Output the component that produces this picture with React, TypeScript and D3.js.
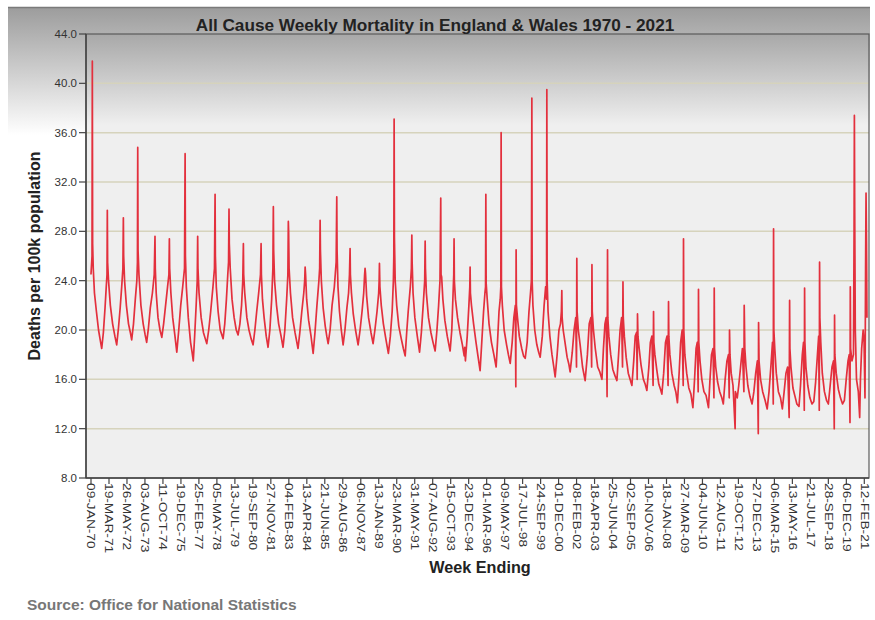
import React from "react";
import * as d3 from "d3";

const titleText = "All Cause Weekly Mortality in England & Wales 1970 - 2021";
const yLabel = "Deaths per 100k population";
const xLabel = "Week Ending";
const sourceText = "Source: Office for National Statistics";

const tickDates = [
  "09-JAN-70", "19-MAR-71", "26-MAY-72", "03-AUG-73", "11-OCT-74", "19-DEC-75",
  "25-FEB-77", "05-MAY-78", "13-JUL-79", "19-SEP-80", "27-NOV-81", "04-FEB-83",
  "13-APR-84", "21-JUN-85", "29-AUG-86", "06-NOV-87", "13-JAN-89", "23-MAR-90",
  "31-MAY-91", "07-AUG-92", "15-OCT-93", "23-DEC-94", "01-MAR-96", "09-MAY-97",
  "17-JUL-98", "24-SEP-99", "01-DEC-00", "08-FEB-02", "18-APR-03", "25-JUN-04",
  "02-SEP-05", "10-NOV-06", "18-JAN-08", "27-MAR-09", "04-JUN-10", "12-AUG-11",
  "19-OCT-12", "27-DEC-13", "06-MAR-15", "13-MAY-16", "21-JUL-17", "28-SEP-18",
  "06-DEC-19", "12-FEB-21",
];

const yTicks = [8, 12, 16, 20, 24, 28, 32, 36, 40, 44];

// [decimal year (as placed on the chart), deaths per 100k]
const mortality: [number, number][] = [
  [1970.02, 24.5], [1970.09, 26.0], [1970.11, 41.8], [1970.13, 27.0], [1970.17, 25.0], [1970.25, 23.0], [1970.38, 21.5], [1970.52, 20.0], [1970.63, 19.2], [1970.73, 18.5], [1970.84, 19.8], [1970.95, 21.8], [1971.03, 23.5],
  [1971.08, 24.5], [1971.10, 29.7], [1971.12, 25.5], [1971.18, 24.0], [1971.30, 22.0], [1971.45, 20.5], [1971.60, 19.5], [1971.72, 18.8], [1971.84, 20.2], [1971.95, 21.8], [1972.05, 23.5],
  [1972.13, 25.0], [1972.16, 29.1], [1972.18, 26.0], [1972.24, 24.0], [1972.36, 22.0], [1972.50, 20.5], [1972.62, 19.8], [1972.71, 19.2], [1972.83, 20.5], [1972.95, 22.5], [1973.05, 24.0],
  [1973.09, 25.5], [1973.11, 34.8], [1973.13, 26.5], [1973.19, 24.5], [1973.32, 22.0], [1973.47, 20.5], [1973.60, 19.6], [1973.70, 19.0], [1973.82, 20.2], [1973.94, 21.8], [1974.08, 23.0],
  [1974.20, 24.5], [1974.25, 27.6], [1974.27, 25.0], [1974.33, 23.0], [1974.45, 21.0], [1974.58, 20.0], [1974.70, 19.4], [1974.82, 20.5], [1974.95, 22.0], [1975.08, 23.5],
  [1975.17, 24.5], [1975.20, 27.4], [1975.22, 25.0], [1975.30, 23.0], [1975.42, 21.0], [1975.56, 19.6], [1975.69, 18.2], [1975.82, 20.0], [1975.95, 22.0], [1976.08, 23.5],
  [1976.20, 25.0], [1976.24, 34.3], [1976.26, 26.0], [1976.32, 23.5], [1976.45, 21.0], [1976.60, 19.0], [1976.70, 18.2], [1976.78, 17.5], [1976.87, 19.5], [1976.97, 22.0],
  [1977.04, 24.0], [1977.07, 27.6], [1977.09, 25.0], [1977.16, 23.0], [1977.30, 21.0], [1977.45, 19.8], [1977.57, 19.3], [1977.67, 18.9], [1977.80, 20.0], [1977.93, 21.5], [1978.08, 23.5],
  [1978.18, 25.0], [1978.22, 31.0], [1978.24, 26.0], [1978.30, 23.5], [1978.42, 21.5], [1978.56, 20.0], [1978.75, 19.3], [1978.86, 20.5], [1978.97, 22.5], [1979.06, 24.5],
  [1979.11, 25.5], [1979.14, 29.8], [1979.16, 27.0], [1979.22, 25.0], [1979.34, 22.5], [1979.48, 21.0], [1979.62, 20.0], [1979.74, 19.6], [1979.86, 20.5], [1979.97, 22.0],
  [1980.05, 24.0], [1980.09, 27.0], [1980.11, 24.5], [1980.18, 23.0], [1980.32, 21.0], [1980.46, 20.0], [1980.60, 19.3], [1980.73, 18.8], [1980.85, 20.0], [1980.97, 21.5], [1981.10, 23.0],
  [1981.22, 24.5], [1981.26, 27.0], [1981.28, 24.5], [1981.35, 22.5], [1981.46, 21.0], [1981.60, 19.5], [1981.72, 18.6], [1981.84, 20.0], [1981.96, 22.5],
  [1982.04, 25.0], [1982.07, 30.0], [1982.09, 26.5], [1982.15, 24.0], [1982.28, 22.0], [1982.42, 20.5], [1982.58, 19.5], [1982.71, 18.6], [1982.83, 20.0], [1982.95, 22.5],
  [1983.03, 24.5], [1983.06, 28.8], [1983.08, 28.0], [1983.11, 25.0], [1983.20, 23.0], [1983.34, 21.0], [1983.50, 19.8], [1983.70, 18.5], [1983.82, 19.8], [1983.95, 21.5], [1984.08, 23.0],
  [1984.14, 24.0], [1984.17, 25.1], [1984.20, 24.5], [1984.27, 22.5], [1984.40, 20.8], [1984.56, 19.5], [1984.70, 18.1], [1984.82, 19.8], [1984.95, 22.0], [1985.08, 24.0],
  [1985.13, 25.0], [1985.16, 28.9], [1985.18, 26.5], [1985.24, 24.0], [1985.36, 21.8], [1985.50, 20.3], [1985.60, 19.5], [1985.69, 18.9], [1985.82, 20.0], [1985.95, 22.0], [1986.10, 23.5],
  [1986.22, 25.5], [1986.26, 30.8], [1986.28, 26.5], [1986.34, 23.5], [1986.44, 21.5], [1986.56, 20.0], [1986.68, 18.8], [1986.80, 20.0], [1986.93, 21.8], [1987.04, 23.0],
  [1987.10, 24.5], [1987.14, 26.6], [1987.16, 24.5], [1987.23, 23.0], [1987.35, 21.3], [1987.50, 20.0], [1987.67, 18.8], [1987.80, 20.0], [1987.93, 21.5], [1988.04, 23.0],
  [1988.10, 24.5], [1988.13, 25.0], [1988.16, 24.6], [1988.23, 22.8], [1988.36, 21.0], [1988.52, 19.8], [1988.66, 18.9], [1988.78, 20.0], [1988.92, 21.5], [1989.03, 23.0],
  [1989.06, 24.0], [1989.08, 25.4], [1989.11, 23.5], [1989.20, 22.0], [1989.34, 20.5], [1989.50, 19.3], [1989.67, 18.1], [1989.80, 19.5], [1989.92, 21.5], [1990.00, 24.0],
  [1990.03, 26.0], [1990.05, 37.1], [1990.07, 27.5], [1990.12, 24.0], [1990.22, 22.0], [1990.36, 20.3], [1990.52, 19.3], [1990.66, 18.5], [1990.78, 17.9], [1990.88, 19.8], [1990.98, 21.5], [1991.12, 23.5],
  [1991.19, 25.0], [1991.22, 27.7], [1991.24, 25.5], [1991.30, 23.0], [1991.42, 21.0], [1991.58, 19.5], [1991.73, 18.2], [1991.85, 19.8], [1991.97, 22.0],
  [1992.07, 24.0], [1992.10, 27.2], [1992.12, 25.0], [1992.18, 23.0], [1992.32, 21.0], [1992.48, 19.8], [1992.62, 19.0], [1992.76, 18.3], [1992.88, 20.0], [1992.99, 22.0],
  [1993.08, 24.0], [1993.13, 30.7], [1993.15, 24.5], [1993.19, 24.3], [1993.27, 22.5], [1993.40, 20.8], [1993.56, 19.5], [1993.75, 18.3], [1993.86, 20.0], [1993.96, 23.5],
  [1993.99, 24.5], [1994.01, 27.4], [1994.03, 24.0], [1994.10, 22.5], [1994.24, 21.0], [1994.40, 19.8], [1994.56, 18.8], [1994.68, 17.9], [1994.72, 18.6], [1994.76, 17.5], [1994.88, 19.5], [1994.99, 22.0],
  [1995.05, 23.5], [1995.07, 25.1], [1995.09, 23.0], [1995.16, 22.0], [1995.30, 20.5], [1995.46, 19.0], [1995.60, 17.8], [1995.73, 16.7], [1995.84, 19.0], [1995.96, 21.5], [1996.05, 23.0],
  [1996.09, 23.5], [1996.11, 31.0], [1996.13, 23.8], [1996.20, 22.5], [1996.32, 20.5], [1996.48, 19.0], [1996.64, 18.0], [1996.79, 17.0], [1996.88, 19.0], [1996.98, 21.5], [1997.06, 22.5],
  [1997.10, 23.5], [1997.12, 36.0], [1997.14, 23.5], [1997.20, 22.0], [1997.32, 20.0], [1997.48, 18.8], [1997.60, 18.0], [1997.72, 17.3], [1997.85, 19.0], [1997.96, 21.0], [1998.06, 22.0],
  [1998.09, 15.4], [1998.11, 26.5], [1998.13, 22.0], [1998.20, 21.0], [1998.32, 19.5], [1998.48, 18.5], [1998.60, 17.9], [1998.71, 17.7], [1998.84, 19.0], [1998.96, 21.5], [1999.06, 23.0],
  [1999.12, 24.0], [1999.15, 38.8], [1999.17, 24.0], [1999.22, 22.0], [1999.34, 20.0], [1999.48, 18.8], [1999.60, 18.2], [1999.70, 17.8], [1999.84, 19.5], [1999.96, 22.0], [2000.06, 23.5],
  [2000.12, 22.5], [2000.14, 39.5], [2000.16, 24.0], [2000.22, 21.5], [2000.34, 19.5], [2000.48, 18.0], [2000.60, 17.0], [2000.69, 16.2], [2000.82, 18.0], [2000.94, 20.0], [2001.04, 20.5],
  [2001.10, 21.5], [2001.13, 23.2], [2001.15, 21.0], [2001.22, 20.0], [2001.34, 19.0], [2001.48, 17.8], [2001.60, 17.2], [2001.68, 16.6], [2001.82, 18.2], [2001.94, 20.0], [2002.05, 21.0],
  [2002.10, 17.0], [2002.12, 25.8], [2002.14, 21.5], [2002.22, 20.0], [2002.34, 18.8], [2002.50, 17.0], [2002.67, 15.9], [2002.82, 18.0], [2002.94, 20.5], [2003.05, 21.0],
  [2003.10, 17.0], [2003.12, 25.3], [2003.14, 21.5], [2003.22, 20.0], [2003.34, 18.5], [2003.50, 17.0], [2003.64, 16.6], [2003.78, 16.0], [2003.88, 18.5], [2003.98, 20.5], [2004.06, 21.0],
  [2004.12, 14.6], [2004.15, 26.5], [2004.17, 21.0], [2004.24, 19.5], [2004.36, 18.0], [2004.50, 16.8], [2004.64, 16.3], [2004.77, 15.9], [2004.88, 18.0], [2004.98, 20.0], [2005.08, 21.0],
  [2005.14, 17.0], [2005.17, 23.9], [2005.19, 21.0], [2005.26, 19.5], [2005.38, 17.8], [2005.52, 16.5], [2005.64, 16.0], [2005.76, 15.5], [2005.88, 17.5], [2005.98, 19.5], [2006.07, 19.8],
  [2006.11, 16.0], [2006.13, 21.3], [2006.16, 19.5], [2006.24, 18.5], [2006.36, 17.2], [2006.52, 16.0], [2006.64, 15.6], [2006.75, 15.1], [2006.88, 17.0], [2006.98, 19.0], [2007.08, 19.5],
  [2007.16, 15.5], [2007.19, 21.5], [2007.21, 19.0], [2007.28, 18.0], [2007.40, 16.8], [2007.54, 15.6], [2007.65, 15.2], [2007.74, 14.8], [2007.86, 16.5], [2007.98, 19.0], [2008.08, 19.5],
  [2008.15, 15.5], [2008.18, 22.3], [2008.20, 19.5], [2008.27, 18.0], [2008.40, 16.5], [2008.55, 15.5], [2008.66, 15.0], [2008.77, 14.1], [2008.88, 16.5], [2008.98, 19.0], [2009.08, 20.0],
  [2009.15, 15.5], [2009.17, 27.4], [2009.19, 20.0], [2009.26, 18.0], [2009.38, 16.5], [2009.52, 15.3], [2009.66, 14.8], [2009.79, 13.7], [2009.90, 16.0], [2010.00, 18.5], [2010.08, 19.0],
  [2010.14, 15.0], [2010.16, 23.3], [2010.18, 19.0], [2010.26, 17.5], [2010.38, 16.0], [2010.52, 15.0], [2010.66, 14.7], [2010.82, 13.7], [2010.92, 16.0], [2011.02, 18.0], [2011.12, 18.5],
  [2011.18, 14.5], [2011.20, 23.4], [2011.22, 18.5], [2011.30, 17.0], [2011.42, 15.8], [2011.56, 15.0], [2011.70, 14.5], [2011.80, 14.0], [2011.92, 16.0], [2012.04, 17.5], [2012.14, 18.0],
  [2012.19, 14.5], [2012.21, 20.0], [2012.24, 18.0], [2012.32, 16.5], [2012.44, 15.5], [2012.58, 12.0], [2012.60, 15.0], [2012.72, 14.5], [2012.82, 15.5], [2012.94, 17.0], [2013.06, 18.5],
  [2013.16, 15.0], [2013.18, 22.0], [2013.19, 21.2], [2013.22, 18.5], [2013.30, 17.0], [2013.42, 15.5], [2013.56, 14.6], [2013.70, 14.0], [2013.82, 15.0], [2013.94, 16.5], [2014.05, 17.5],
  [2014.11, 11.6], [2014.13, 20.6], [2014.16, 17.5], [2014.26, 16.0], [2014.40, 15.0], [2014.56, 14.3], [2014.70, 13.6], [2014.82, 15.0], [2014.94, 17.0], [2015.05, 19.0],
  [2015.10, 14.0], [2015.12, 28.2], [2015.14, 20.0], [2015.20, 18.5], [2015.30, 16.5], [2015.44, 15.0], [2015.58, 14.5], [2015.70, 13.6], [2015.82, 15.0], [2015.94, 16.5], [2016.05, 17.0],
  [2016.15, 12.9], [2016.18, 22.4], [2016.20, 18.5], [2016.27, 17.0], [2016.40, 15.3], [2016.54, 14.6], [2016.66, 14.0], [2016.80, 13.8], [2016.90, 15.5], [2017.02, 18.0], [2017.10, 19.0],
  [2017.15, 13.5], [2017.17, 23.4], [2017.19, 19.0], [2017.26, 17.0], [2017.38, 15.5], [2017.52, 14.5], [2017.66, 14.0], [2017.78, 14.2], [2017.90, 15.8], [2018.02, 18.0], [2018.10, 19.5],
  [2018.14, 13.5], [2018.16, 25.5], [2018.18, 21.0], [2018.24, 19.0], [2018.34, 16.5], [2018.48, 15.0], [2018.62, 14.3], [2018.74, 14.0], [2018.86, 15.5], [2018.98, 17.0], [2019.08, 17.5],
  [2019.13, 12.0], [2019.15, 21.2], [2019.17, 18.0], [2019.26, 16.5], [2019.40, 15.2], [2019.54, 14.5], [2019.68, 14.0], [2019.80, 14.3], [2019.92, 16.0], [2020.04, 17.5], [2020.12, 18.0],
  [2020.17, 12.5], [2020.19, 23.5], [2020.21, 18.5], [2020.30, 17.5], [2020.40, 18.0], [2020.44, 28.0], [2020.46, 37.4], [2020.48, 30.0], [2020.52, 20.0], [2020.60, 16.0], [2020.72, 15.0], [2020.81, 12.9], [2020.86, 16.0], [2020.94, 18.5], [2021.04, 20.0],
  [2021.10, 19.0], [2021.16, 14.5], [2021.20, 25.0], [2021.23, 31.1], [2021.26, 27.0], [2021.29, 21.0],
];

const parseDate = d3.timeParse("%d-%b-%y");
function toDecimalYear(s: string): number {
  const d = parseDate(s) as Date;
  const yr = d.getFullYear();
  const a = new Date(yr, 0, 1).getTime();
  const b = new Date(yr + 1, 0, 1).getTime();
  return yr + (d.getTime() - a) / (b - a);
}

export default function App() {
  const W = 875;
  const H = 620;
  const left = 86, right = 869, top = 34, bottom = 478;

  const x = d3
    .scaleLinear()
    .domain([toDecimalYear(tickDates[0]), toDecimalYear(tickDates[tickDates.length - 1])])
    .range([91, 864.3]);
  const y = d3.scaleLinear().domain([8, 44]).range([bottom, top]);

  const linePath = d3
    .line<[number, number]>()
    .x((d) => x(d[0]))
    .y((d) => y(d[1]))(mortality) as string;

  const font = "'Liberation Sans', Arial, sans-serif";

  return (
    <svg
      width={W}
      height={H}
      viewBox={`0 0 ${W} ${H}`}
      style={{ position: "absolute", left: 0, top: 0, background: "#ffffff" }}
    >
      <defs>
        <linearGradient id="outerG" gradientUnits="userSpaceOnUse" x1="0" y1="7" x2="0" y2="135">
          <stop offset="0" stopColor="#9c9c9c" />
          <stop offset="1" stopColor="#ffffff" />
        </linearGradient>
        <linearGradient id="plotG" gradientUnits="userSpaceOnUse" x1="0" y1={top} x2="0" y2="125">
          <stop offset="0" stopColor="#a8a8a8" />
          <stop offset="1" stopColor="#efefef" />
        </linearGradient>
        <clipPath id="plotClip">
          <rect x={left} y={top} width={right - left} height={bottom - top} />
        </clipPath>
      </defs>

      <rect x={8} y={7} width={862} height={600} fill="url(#outerG)" />
      <line x1={8} x2={870} y1={7.5} y2={7.5} stroke="#7a7a7a" strokeWidth={1.5} />

      <rect x={left} y={top} width={right - left} height={bottom - top} fill="url(#plotG)" />

      {yTicks
        .filter((t) => t !== 8 && t !== 44)
        .map((t) => (
          <line key={"g" + t} x1={left} x2={right} y1={y(t)} y2={y(t)} stroke="#d6d3bc" strokeWidth={1.5} />
        ))}

      <path
        d={linePath}
        fill="none"
        stroke="#e3303d"
        strokeWidth={1.7}
        strokeLinejoin="round"
        clipPath="url(#plotClip)"
      />

      <rect x={left} y={top} width={right - left} height={bottom - top} fill="none" stroke="#5a5a5a" strokeWidth={1.2} />
      <line x1={left} x2={left} y1={top} y2={bottom} stroke="#444" strokeWidth={1.5} />
      <line x1={left} x2={right} y1={bottom} y2={bottom} stroke="#444" strokeWidth={1.5} />

      {yTicks.map((t) => (
        <g key={"y" + t}>
          <line x1={left - 7} x2={left} y1={y(t)} y2={y(t)} stroke="#444" strokeWidth={1.2} />
          <text
            x={left - 9}
            y={y(t)}
            dy="0.35em"
            textAnchor="end"
            fontFamily={font}
            fontSize={11.5}
            fill="#333"
          >
            {t.toFixed(1)}
          </text>
        </g>
      ))}

      {tickDates.map((s) => {
        const xp = x(toDecimalYear(s));
        return (
          <g key={s}>
            <line x1={xp} x2={xp} y1={bottom} y2={bottom + 6} stroke="#444" strokeWidth={1.2} />
            <text
              transform={`translate(${xp},${bottom + 5}) rotate(90) scale(1.31,1)`}
              dy="0.35em"
              textAnchor="start"
              fontFamily={font}
              fontSize={10.5}
              fill="#333"
            >
              {s}
            </text>
          </g>
        );
      })}

      <text x={435} y={31} textAnchor="middle" fontFamily={font} fontWeight="bold" fontSize={17.2} fill="#222">
        {titleText}
      </text>

      <text
        transform={`translate(40,256) rotate(-90)`}
        textAnchor="middle"
        fontFamily={font}
        fontWeight="bold"
        fontSize={16}
        fill="#222"
      >
        {yLabel}
      </text>

      <text x={480} y={573} textAnchor="middle" fontFamily={font} fontWeight="bold" fontSize={16.2} fill="#222">
        {xLabel}
      </text>

      <text x={27} y={610} fontFamily={font} fontWeight="bold" fontSize={15.5} fill="#777">
        {sourceText}
      </text>
    </svg>
  );
}
